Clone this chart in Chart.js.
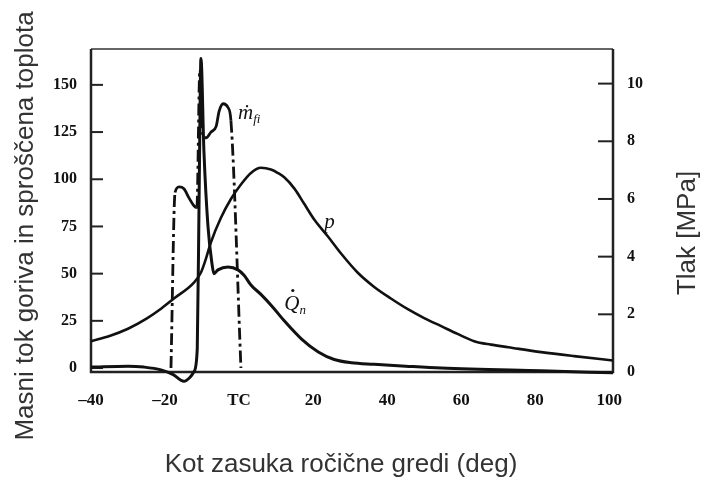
<!DOCTYPE html>
<html>
<head>
<meta charset="utf-8">
<script src="https://cdn.jsdelivr.net/npm/chart.js@4.4.1/dist/chart.umd.min.js"></script>
<style>
html,body{margin:0;padding:0;background:#fff}
</style>
</head>
<body>
<canvas id="chart" width="702" height="481"></canvas>
<script>
// tlak p [MPa] - desna os
const pAngle=[-40,-35,-30,-25,-21,-17.6,-12.2,-10.3,-8.9,-7.6,-4.9,-2.2,0.5,3.2,5.9,8.6,10.5,12.2,15,17.5,20.5,24,27.6,32,36.5,41,45.7,50,54.6,59,63.5,68,72.7,81.6,90.5,101]
const pValues=[1.07,1.25,1.5,1.85,2.2,2.55,3.1,3.45,3.95,4.5,5.35,6.0,6.5,6.9,7.08,7.02,6.9,6.75,6.35,5.85,5.25,4.7,4.1,3.45,2.95,2.55,2.17,1.87,1.59,1.32,1.07,0.95,0.86,0.69,0.55,0.40]

// sproscena toplota Qn - leva os
const qAngle=[-40,-30,-25.7,-21.1,-17.8,-14.9,-13.3,-12.2,-11.3,-10.8,-10.3,-9.5,-8.4,-7.3,-6.8,-5.7,-3,-0.3,1.4,3.2,5.9,9,12.2,16.8,21.4,25.7,30.3,36.5,45,54.6,81.6,101]
const qValues=[0.5,1,0.5,-1,-3.5,-7,-5,-2,10,90,164,115,75,55,50,52,53.5,52,49,44,39,32.5,25,15.5,8.5,4.5,2.8,2,1,0,-1.5,-2.5]

// masni tok goriva mfi - leva os
const mAngle=[-18.4,-17.3,-16.2,-14.9,-13.5,-12.2,-11.4,-10.6,-9.7,-8.9,-7.6,-6.2,-5.4,-4.3,-3,-2.2,0.5]
const mValues=[0,93,96,95,90,86,85,158,122,122,125,128,136,140,138,131,0]

const xTicks=[-40,-20,0,20,40,60,80,100]
const xTickLabels=["–40","–20","TC","20","40","60","80","100"]
const leftTicks=[0,25,50,75,100,125,150]
const rightTicks=[0,2,4,6,8,10]

// oznake krivulj (v enotah osi x / leve osi)
const noteText=["ṁ","p","Q"]
const noteSub=["fi","","n"]
const noteX=[-0.3,23,12.2]
const noteY=[132,74,31]

function pts(xs,ys){
return xs.map((x,i)=>({x:x,y:ys[i]}))
}

const ink="#111"
const serif='"Liberation Serif","Times New Roman",serif'

const frame={
id:"frame",
beforeDatasetsDraw(chart){
let c=chart.ctx, a=chart.chartArea
let yl=chart.scales.yL, yr=chart.scales.yR
c.save()
c.strokeStyle="#666"
c.lineWidth=2
c.beginPath()
c.moveTo(a.left,a.top); c.lineTo(a.right,a.top)
c.stroke()
c.strokeStyle="#222"
c.lineWidth=2.5
c.beginPath()
c.moveTo(a.left,a.top); c.lineTo(a.left,a.bottom); c.lineTo(a.right,a.bottom); c.lineTo(a.right,a.top)
c.stroke()
c.lineWidth=2
leftTicks.forEach(v=>{
let y=yl.getPixelForValue(v)
c.beginPath(); c.moveTo(a.left,y); c.lineTo(a.left+12,y); c.stroke()
})
rightTicks.forEach(v=>{
let y=yr.getPixelForValue(v)
c.beginPath(); c.moveTo(a.right-15,y); c.lineTo(a.right,y); c.stroke()
})
c.restore()
},
afterDraw(chart){
let c=chart.ctx
c.save()
c.fillStyle="#333"
c.font='26px "Liberation Sans",Arial,sans-serif'
c.textAlign="center"
c.textBaseline="middle"
c.save()
c.translate(26,226); c.rotate(-Math.PI/2)
c.fillText("Masni tok goriva in sproščena toplota",0,0)
c.restore()
c.save()
c.translate(688,233); c.rotate(-Math.PI/2)
c.fillText("Tlak [MPa]",0,0)
c.restore()
c.textBaseline="alphabetic"
c.fillText("Kot zasuka ročične gredi (deg)",341,472)

// oznake krivulj
let xs=chart.scales.x, yl=chart.scales.yL
c.fillStyle=ink
c.textAlign="left"
noteText.forEach((t,i)=>{
let px=xs.getPixelForValue(noteX[i]), py=yl.getPixelForValue(noteY[i])
c.font="italic 21px "+serif
c.fillText(t,px,py)
let w=c.measureText(t).width
if(t=="Q"){
c.beginPath(); c.arc(px+w/2+1,py-19,1.6,0,Math.PI*2); c.fill()
}
if(noteSub[i]){
c.font="italic 13px "+serif
c.fillText(noteSub[i],px+w,py+4)
}
})
c.restore()
}
}

new Chart(document.getElementById("chart"),{
type:"line",
data:{
datasets:[
{label:"p",data:pts(pAngle,pValues),yAxisID:"yR",borderColor:ink,borderWidth:2.6,pointRadius:0,cubicInterpolationMode:"monotone",fill:false},
{label:"Qn",data:pts(qAngle,qValues),yAxisID:"yL",borderColor:ink,borderWidth:3,pointRadius:0,cubicInterpolationMode:"monotone",fill:false,clip:false},
{label:"mfi",data:pts(mAngle,mValues),yAxisID:"yL",borderColor:ink,borderWidth:2.8,pointRadius:0,cubicInterpolationMode:"monotone",fill:false,clip:false,
segment:{borderDash:ctx=>Math.abs(ctx.p1.y-ctx.p0.y)>3*Math.abs(ctx.p1.x-ctx.p0.x)+20?[12,4,3,4]:undefined}}
]
},
options:{
responsive:false,
animation:false,
events:[],
layout:{padding:{top:49,left:0,right:0,bottom:0}},
plugins:{legend:{display:false},tooltip:{enabled:false}},
scales:{
x:{
type:"linear",min:-40,max:101,
grid:{display:false},border:{display:false},
afterBuildTicks:s=>{s.ticks=xTicks.map(v=>({value:v}))},
afterFit:s=>{s.height=109},
ticks:{autoSkip:false,maxRotation:0,padding:10,color:ink,font:{family:serif,size:17,weight:"bold"},
callback:v=>xTickLabels[xTicks.indexOf(v)]}
},
yL:{
type:"linear",position:"left",min:-2.1,max:169,
grid:{display:false},border:{display:false},
afterBuildTicks:s=>{s.ticks=leftTicks.map(v=>({value:v}))},
afterFit:s=>{s.width=91},
ticks:{padding:6,color:ink,font:{family:serif,size:16,weight:"bold"}}
},
yR:{
type:"linear",position:"right",min:0,max:11.2,
grid:{display:false},border:{display:false},
afterBuildTicks:s=>{s.ticks=rightTicks.map(v=>({value:v}))},
afterFit:s=>{s.width=89},
ticks:{padding:6,color:ink,font:{family:serif,size:16,weight:"bold"}}
}
}
},
plugins:[frame]
})
</script>
</body>
</html>
